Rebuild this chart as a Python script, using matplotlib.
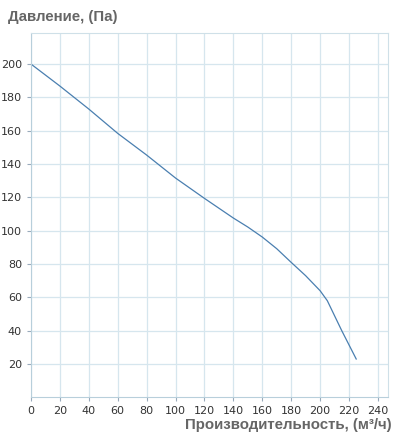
import matplotlib
matplotlib.use('Agg')
import matplotlib.pyplot as plt
import numpy as np

# flow (m3/h) vs pressure (Pa)
flow = [0, 20, 40, 60, 80, 100, 120, 140, 150, 160, 170, 180, 190, 200, 205, 215, 225]
pressure = [200, 186.8, 173, 158.4, 145.4, 131.6, 119.4, 107.6, 102.2, 96.2, 89.2, 81, 73, 64, 58, 40, 23]

xticks = list(range(0, 241, 20))
yticks = list(range(20, 201, 20))

fig = plt.figure(figsize=(4.01, 4.41), dpi=100)
ax = fig.add_axes([0.0773, 0.0998, 0.8903, 0.8252])

ax.plot(flow, pressure, c='#4a7fb0', lw=0.9)

ax.set_xlim(0, 247)
ax.set_ylim(0.2, 218.6)
ax.set_xticks(xticks)
ax.set_yticks(yticks)
ax.grid(True, color='#d6e6ee', lw=0.9)
ax.set_axisbelow(True)
for s in ax.spines.values():
    s.set_color('#cfe0e8')
ax.spines['left'].set_color('#b8cfdb')
ax.spines['bottom'].set_color('#b8cfdb')
ax.tick_params(axis='both', labelsize=8, colors='#9ab', labelcolor='#333333', length=3, width=0.8)

fig.text(8/401, 1 - 17/441, 'Давление, (Па)', fontsize=10.8, fontweight='bold',
         color='#666666', family='Liberation Sans', va='center', ha='left')
fig.text(392/401, 1 - 425/441, 'Производительность, (м³/ч)', fontsize=10.8, fontweight='bold',
         color='#666666', family='Liberation Sans', va='center', ha='right')

fig.savefig('out.png', dpi=100)
